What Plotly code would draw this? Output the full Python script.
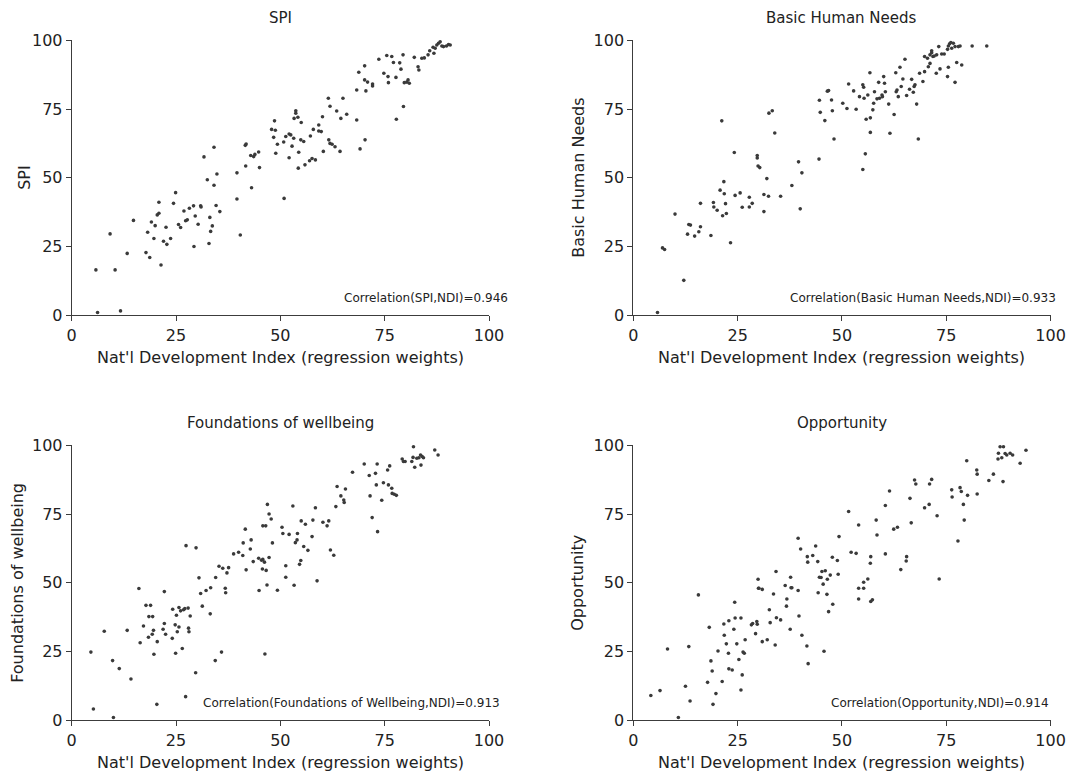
import plotly.graph_objects as go

# ---------------- data ----------------
spi_ndi = [5.8, 6.2, 9.2, 10.4, 11.7, 13.3, 14.8, 17.8, 18.2, 18.7, 19.1, 19.7, 20.0, 20.5, 20.9, 20.9, 21.4, 22.0, 22.6, 22.8,
           23.7, 24.4, 24.9, 25.6, 26.1, 26.9, 27.3, 27.7, 28.2, 29.2, 29.3, 29.6, 30.3, 30.9, 31.0, 31.7, 32.5, 32.9, 33.1, 33.3,
           33.7, 34.1, 34.1, 34.6, 34.8, 35.5, 39.6, 39.6, 40.4, 41.6, 41.8, 41.7, 42.9, 43.1, 43.6, 43.9, 44.8, 45.0, 47.9, 48.4,
           48.6, 48.8, 48.9, 49.3,
           50.9, 50.8, 51.3, 52.1, 52.5, 52.1, 52.8, 53.2, 53.3, 53.7, 53.7, 54.2, 54.4, 54.3, 55.0, 54.9, 55.6, 55.9, 57.0, 57.2,
           57.6, 57.9, 58.4, 59.2, 59.2, 59.8, 60.1, 60.3, 61.5, 61.9, 61.9, 61.6, 62.4, 63.5, 63.1, 64.3, 64.5, 65.0, 65.9, 68.3,
           68.3, 68.8, 69.1, 70.2, 70.2, 70.5, 70.3, 70.9, 72.1, 72.1, 73.6, 74.8, 75.5, 75.8, 75.9, 76.7, 77.1, 77.7, 77.8, 78.6,
           78.9, 79.4, 79.5, 79.7, 80.3, 80.6, 80.9, 82.1, 83.0, 83.2, 83.9, 84.5, 85.4, 85.8, 86.6, 86.8, 87.1, 87.5, 87.9, 88.3,
           88.7, 89.1, 89.8, 90.3, 90.7]
spi_val = [16.5, 1.0, 29.6, 16.5, 1.6, 22.5, 34.5, 22.8, 30.2, 21.0, 33.9, 27.9, 32.6, 36.5, 37.1, 41.1, 18.3, 26.9, 32.0, 25.8,
           27.9, 40.7, 44.6, 33.0, 31.9, 37.9, 34.4, 34.7, 38.9, 39.8, 25.0, 36.1, 33.1, 39.8, 39.4, 57.6, 49.3, 26.1, 35.6, 30.5,
           32.5, 61.1, 47.3, 39.9, 51.4, 37.7, 51.8, 42.3, 29.2, 61.8, 62.3, 54.3, 58.1, 46.4, 57.7, 58.5, 59.4, 53.7, 67.6, 64.7,
           70.7, 67.3, 58.9, 62.2,
           42.5, 63.0, 65.0, 65.9, 65.6, 57.3, 61.5, 64.4, 71.6, 74.4, 73.5, 72.0, 59.3, 53.5, 70.1, 63.8, 63.2, 54.7, 56.2, 65.2,
           57.0, 67.6, 56.5, 69.2, 67.0, 66.8, 72.2, 59.6, 78.9, 62.5, 76.0, 63.8, 62.2, 74.3, 61.3, 59.6, 71.6, 78.9, 73.1, 71.0,
           81.9, 88.4, 60.5, 90.7, 85.6, 81.6, 63.8, 84.8, 84.1, 83.4, 93.1, 88.0, 94.5, 86.8, 84.6, 94.1, 91.9, 86.5, 71.3, 91.8,
           89.5, 94.7, 75.9, 84.6, 84.8, 85.6, 84.4, 93.8, 90.4, 89.2, 93.5, 93.6, 94.7, 96.2, 97.5, 95.3, 97.1, 98.3, 98.9, 99.5,
           97.9, 97.7, 97.9, 98.5, 98.3]

bhn_ndi = [5.8, 7.0, 7.5, 10.0, 12.1, 13.0, 13.3, 13.7, 14.7, 15.7, 16.1, 16.1, 18.6, 19.2, 19.3, 20.1, 20.8, 21.2, 21.4, 21.7,
           21.8, 22.1, 22.3, 23.3, 24.2, 24.4, 25.6, 26.1, 27.8, 27.8, 28.5, 29.7, 29.7, 29.9, 30.3, 31.3, 31.3, 32.0, 32.4, 32.5,
           33.3, 33.9, 35.3, 38.0, 39.6, 40.0, 40.4, 44.5, 44.6, 44.8, 45.9, 46.5, 46.8, 47.5, 47.7, 48.1,
           50.2, 51.2, 51.6, 52.8, 53.4, 54.2, 55.0, 55.2, 55.3, 55.8, 56.2, 56.7, 56.8, 56.8, 55.6, 55.0, 57.4, 57.6, 57.8, 58.4,
           58.8, 59.0, 59.6, 59.7, 60.0, 60.2, 60.4, 61.2, 61.5, 62.5, 62.9, 63.0, 63.2, 63.5, 63.9, 64.2, 64.6, 65.1, 65.5, 66.2,
           66.7, 67.1, 67.3, 67.5, 67.9, 68.3, 68.6, 69.4, 69.8, 69.8, 70.5, 70.7, 71.1, 71.1, 71.5, 71.5, 71.8, 72.1, 72.6, 72.7,
           73.2, 73.5, 73.9, 74.5, 75.3, 75.5, 75.3, 75.5, 75.8, 76.1, 76.3, 76.7, 77.1, 77.1, 77.5, 77.9, 78.3, 78.7, 81.2, 84.7]
bhn_val = [1.0, 24.5, 23.9, 36.8, 12.7, 29.5, 33.0, 32.8, 28.8, 30.4, 32.2, 40.7, 29.0, 41.0, 39.4, 38.2, 45.5, 70.7, 36.2, 48.6,
           44.2, 40.6, 37.0, 26.4, 59.2, 43.6, 44.5, 39.3, 42.9, 39.4, 40.7, 57.2, 58.1, 54.3, 53.7, 37.7, 43.9, 49.7, 43.3, 73.5,
           74.4, 66.3, 43.3, 47.2, 55.8, 38.7, 51.8, 56.8, 78.2, 73.8, 70.8, 81.5, 81.7, 78.3, 74.4, 64.1,
           77.1, 75.2, 84.1, 81.6, 74.9, 79.5, 83.8, 82.9, 78.9, 71.3, 80.1, 88.2, 71.8, 66.5, 58.7, 53.0, 74.7, 77.1, 81.3, 78.7,
           84.7, 78.9, 80.1, 79.5, 86.8, 84.4, 81.3, 76.8, 66.2, 73.0, 88.2, 81.3, 81.9, 79.5, 90.2, 83.2, 85.9, 93.1, 79.9, 82.2,
           85.8, 81.1, 83.2, 83.8, 76.8, 64.1, 88.0, 85.0, 94.1, 88.6, 93.5, 90.4, 94.7, 91.6, 96.2, 95.5, 94.1, 94.3, 88.0, 94.7,
           97.7, 89.6, 95.0, 95.0, 86.8, 90.2, 96.7, 97.9, 98.7, 99.2, 97.1, 98.9, 84.7, 97.7, 91.9, 97.7, 97.9, 91.0, 97.9, 97.9]

fow_ndi = [4.6, 5.2, 7.8, 9.8, 10.0, 11.4, 13.3, 14.2, 16.1, 16.4, 17.2, 17.8, 18.4, 18.5, 18.9, 19.3, 19.4, 19.6, 19.7, 20.4,
           20.5, 21.9, 22.2, 22.2, 22.5, 24.1, 24.2, 24.8, 24.9, 25.1, 25.3, 25.7, 25.7, 26.1, 26.5, 26.8, 27.1, 27.3, 27.4, 27.9,
           28.0, 28.1, 28.4, 29.7, 29.8, 30.5, 30.9, 31.3, 32.2, 33.2, 33.3, 34.4, 34.5, 35.3, 35.9, 36.2, 36.8, 36.9, 37.2, 37.6,
           38.8, 40.0, 41.0, 41.1, 41.6, 41.8, 42.8, 43.0, 43.5, 44.8, 44.9, 45.5, 45.7, 45.8, 45.8, 46.2, 46.3, 46.5, 46.6, 46.8,
           46.9, 47.3, 47.3, 47.8, 48.1, 49.3,
           50.4, 50.6, 51.3, 51.3, 52.1, 53.0, 53.3, 53.6, 54.0, 54.1, 54.6, 54.9, 55.0, 55.6, 56.0, 56.6, 57.6, 57.8, 58.4, 58.8,
           60.2, 61.2, 61.6, 62.0, 62.8, 63.3, 63.6, 64.5, 65.2, 65.3, 65.6, 67.3, 70.1, 71.3, 71.5, 72.0, 72.8, 73.0, 73.2, 73.3,
           74.3, 74.7, 75.7, 75.9, 76.2, 76.7, 76.8, 77.3, 77.8, 79.2, 79.5, 79.9, 81.5, 81.8, 81.9, 82.2, 82.7, 83.2, 83.6, 83.7,
           84.0, 84.3, 87.0, 87.8]
fow_val = [24.8, 4.1, 32.4, 21.7, 1.0, 18.8, 32.7, 15.0, 47.9, 28.2, 34.3, 41.8, 30.2, 37.7, 41.8, 31.3, 37.7, 32.7, 24.0, 5.8,
           28.6, 33.1, 46.8, 35.2, 31.3, 29.8, 40.4, 34.7, 24.4, 38.2, 32.2, 41.0, 33.9, 39.8, 26.1, 40.2, 40.6, 8.6, 63.5, 40.8,
           33.5, 32.2, 37.9, 17.3, 62.7, 51.8, 46.1, 41.5, 47.2, 38.7, 48.2, 21.7, 51.9, 56.0, 24.8, 55.3, 48.0, 46.4, 53.6, 55.5,
           60.5, 61.1, 59.9, 64.5, 69.5, 54.7, 62.3, 65.6, 57.7, 58.9, 47.2, 58.2, 55.0, 58.5, 70.7, 57.5, 24.1, 70.7, 54.5, 49.2,
           78.5, 75.0, 59.2, 73.2, 64.5, 47.3,
           70.2, 67.9, 56.2, 52.0, 67.6, 77.9, 49.1, 64.6, 65.6, 67.9, 56.7, 58.1, 72.5, 63.2, 71.3, 61.8, 66.8, 72.8, 77.3, 50.7,
           72.0, 70.7, 72.5, 61.9, 60.0, 77.7, 85.0, 81.6, 80.1, 79.2, 84.1, 90.2, 93.2, 89.0, 81.6, 73.7, 89.8, 85.6, 93.2, 68.6,
           80.0, 86.4, 91.0, 85.6, 92.5, 84.4, 82.5, 82.2, 81.8, 95.0, 94.1, 94.1, 94.1, 95.6, 99.5, 92.0, 95.3, 95.5, 96.5, 92.8,
           95.9, 95.5, 98.3, 96.5]

opp_ndi = [4.2, 6.4, 8.2, 10.8, 12.5, 13.3, 13.6, 15.6, 17.8, 18.2, 18.6, 18.9, 19.1, 19.8, 20.3, 21.3, 21.7, 21.8, 22.3, 22.8,
           22.9, 22.9, 23.7, 24.1, 24.3, 24.4, 24.8, 25.3, 25.8, 25.8, 26.1, 26.3, 26.6, 26.8, 28.3, 28.6, 29.3, 29.6, 29.7, 29.9,
           30.0, 30.1, 30.9, 30.9, 32.1, 32.6, 32.8, 33.6, 34.0, 34.2, 34.3, 35.3, 36.4, 36.7, 36.8, 37.6, 37.7, 37.8, 38.0, 39.5,
           39.5, 39.7, 40.1, 40.4, 41.6, 41.7, 41.8, 41.9, 43.0, 43.7, 44.2, 44.3, 44.6, 45.0, 45.2, 45.5, 45.7, 46.0, 46.4, 46.5,
           46.8, 47.2, 47.7, 47.8, 48.9, 49.1, 49.3,
           51.6, 52.2, 53.4, 54.0, 54.0, 54.0, 55.2, 55.2, 56.2, 56.8, 56.9, 56.9, 57.3, 58.2, 58.4, 60.4, 60.4, 61.4, 62.4, 63.3,
           64.1, 65.4, 65.5, 66.3, 66.6, 67.4, 67.7, 69.8, 70.9, 71.0, 71.5, 72.8, 73.3, 76.3, 76.4, 77.8, 78.3, 78.6, 79.1, 79.3,
           79.9, 80.1, 82.3, 82.4, 82.4, 85.2, 86.3, 87.4, 87.5, 87.9, 88.3, 88.6, 88.7, 89.1, 89.5, 90.3, 90.9, 92.7, 94.1]
opp_val = [9.0, 10.8, 25.9, 1.0, 12.4, 26.8, 7.0, 45.6, 13.8, 33.8, 21.6, 17.9, 5.8, 9.7, 25.2, 14.1, 35.0, 30.9, 27.8, 24.4,
           36.2, 18.7, 18.3, 33.1, 42.9, 37.2, 27.8, 22.1, 37.2, 11.0, 16.5, 24.8, 24.4, 29.3, 34.7, 35.2, 31.5, 35.9, 34.9, 51.3,
           48.0, 48.0, 28.6, 47.6, 29.3, 40.2, 35.5, 45.9, 27.4, 54.1, 37.3, 36.5, 49.0, 41.5, 44.1, 33.1, 52.0, 48.2, 48.2, 47.2,
           66.2, 37.9, 62.3, 30.9, 27.0, 59.5, 57.5, 20.6, 59.9, 63.4, 57.7, 46.4, 52.0, 51.9, 54.1, 49.5, 25.1, 54.4, 45.8, 51.3,
           39.5, 52.8, 59.3, 42.2, 58.1, 53.1, 66.8,
           75.9, 61.1, 60.7, 71.0, 48.0, 44.1, 50.2, 48.0, 51.4, 57.1, 59.5, 43.2, 43.8, 72.8, 67.4, 60.5, 78.1, 83.4, 69.5, 70.2,
           54.8, 57.9, 59.5, 80.7, 71.8, 87.4, 85.9, 77.3, 78.5, 85.9, 87.6, 74.4, 51.4, 83.8, 81.2, 65.2, 84.6, 83.2, 78.5, 72.8,
           94.4, 81.8, 91.0, 89.5, 82.3, 87.2, 89.5, 95.0, 97.1, 99.5, 95.5, 86.8, 99.5, 97.0, 96.5, 97.1, 96.5, 93.5, 98.2]

panel_titles = ["SPI", "Basic Human Needs", "Foundations of wellbeing", "Opportunity"]
y_titles = ["SPI", "Basic Human Needs", "Foundations of wellbeing", "Opportunity"]
x_title = "Nat'l Development Index (regression weights)"
corr_texts = ["Correlation(SPI,NDI)=0.946", "Correlation(Basic Human Needs,NDI)=0.933",
              "Correlation(Foundations of Wellbeing,NDI)=0.913", "Correlation(Opportunity,NDI)=0.914"]
tick_vals = [0, 25, 50, 75, 100]
tick_text = ["0", "25", "50", "75", "100"]

series = [(spi_ndi, spi_val), (bhn_ndi, bhn_val), (fow_ndi, fow_val), (opp_ndi, opp_val)]

# ---------------- layout geometry (pixels) ----------------
W, H = 1073, 776
FONT = "DejaVu Sans"
AX = "#3c3c3c"
left_px = [71.7, 633.3, 71.7, 633.3]
top_px = [40.3, 40.3, 445.3, 445.3]
pw, ph = 417.3, 275.0
ytitle_x = [25, 579, 18, 578]
corr_right = [510, 1058, 502, 1051]

def px(x):
    return x / W

def py(y):
    return 1 - y / H

fig = go.Figure()
annotations = []
layout = dict(
    width=W, height=H,
    margin=dict(l=0, r=0, t=0, b=0),
    paper_bgcolor="white", plot_bgcolor="white",
    showlegend=False,
    font=dict(family=FONT, color="#222"),
)

for i, (xs, ys) in enumerate(series):
    n = "" if i == 0 else str(i + 1)
    fig.add_trace(go.Scatter(
        x=xs, y=ys, mode="markers", xaxis="x" + n, yaxis="y" + n,
        marker=dict(size=3.6, color="#3a3a3a", line=dict(width=0)),
        cliponaxis=False, hoverinfo="x+y",
    ))
    l, t = left_px[i], top_px[i]
    common = dict(range=[0, 100], tickvals=tick_vals, ticktext=tick_text,
                  showgrid=False, zeroline=False, showline=True, linecolor=AX, linewidth=1,
                  ticks="outside", ticklen=5, tickcolor=AX, tickwidth=1,
                  tickfont=dict(family=FONT, size=16, color="#222"), automargin=False, fixedrange=True)
    layout["xaxis" + n] = dict(domain=[px(l), px(l + pw)], anchor="y" + n, **common)
    layout["yaxis" + n] = dict(domain=[py(t + ph), py(t)], anchor="x" + n, **common)

    cx = l + pw / 2
    annotations.append(dict(text=panel_titles[i], x=px(cx), y=py(t - 22), xref="paper", yref="paper",
                            showarrow=False, xanchor="center", yanchor="middle",
                            font=dict(family=FONT, size=15, color="#222")))
    annotations.append(dict(text=x_title, x=px(cx), y=py(t + ph + 42), xref="paper", yref="paper",
                            showarrow=False, xanchor="center", yanchor="middle",
                            font=dict(family=FONT, size=16, color="#222")))
    annotations.append(dict(text=y_titles[i], x=px(ytitle_x[i]), y=py(t + ph / 2), xref="paper", yref="paper",
                            showarrow=False, xanchor="center", yanchor="middle", textangle=-90,
                            font=dict(family=FONT, size=16, color="#222")))
    annotations.append(dict(text=corr_texts[i], x=px(corr_right[i]), y=py(t + ph - 17), xref="paper", yref="paper",
                            showarrow=False, xanchor="right", yanchor="middle",
                            font=dict(family=FONT, size=12, color="#222")))

layout["annotations"] = annotations
fig.update_layout(**layout)
fig.write_html("out.html")
